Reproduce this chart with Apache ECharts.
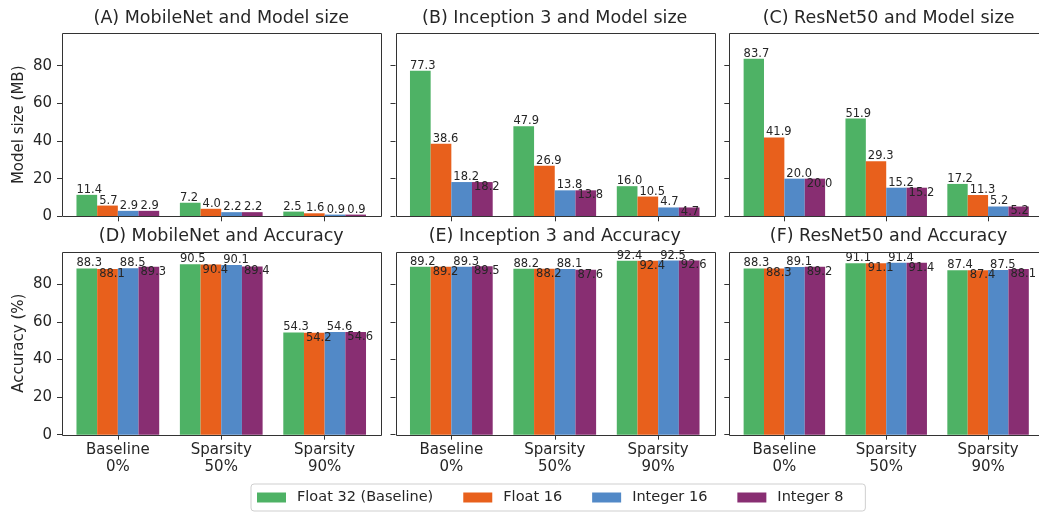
<!DOCTYPE html>
<html><head><meta charset="utf-8">
<script src="https://cdn.jsdelivr.net/npm/echarts@6/dist/echarts.min.js"></script>
<style>html,body{margin:0;padding:0;background:#fff}#c{width:1039px;height:513px}</style>
</head><body><div id="c"></div>
<script>
// ---------- data ----------
const categories = ['Baseline\n0%', 'Sparsity\n50%', 'Sparsity\n90%'];
const seriesNames = ['Float 32 (Baseline)', 'Float 16', 'Integer 16', 'Integer 8'];
const colors = ['#4EB265', '#E8601C', '#5289C7', '#882E72'];
const yTicks = [0, 20, 40, 60, 80];
const yMax = 97.23;
const panelTitles = [
  '(A) MobileNet and Model size', '(B) Inception 3 and Model size', '(C) ResNet50 and Model size',
  '(D) MobileNet and Accuracy', '(E) Inception 3 and Accuracy', '(F) ResNet50 and Accuracy'
];
const rowAxisNames = ['Model size (MB)', 'Accuracy (%)'];
// rows: Float32, Float16, Integer16, Integer8 ; columns: Baseline, Sparsity 50%, Sparsity 90%
const mobileNetSize  = [[11.4, 7.2, 2.5], [5.7, 4.0, 1.6], [2.9, 2.2, 0.9], [2.9, 2.2, 0.9]];
const inceptionSize  = [[77.3, 47.9, 16.0], [38.6, 26.9, 10.5], [18.2, 13.8, 4.7], [18.2, 13.8, 4.7]];
const resnetSize     = [[83.7, 51.9, 17.2], [41.9, 29.3, 11.3], [20.0, 15.2, 5.2], [20.0, 15.2, 5.2]];
const mobileNetAcc   = [[88.3, 90.5, 54.3], [88.1, 90.4, 54.2], [88.5, 90.1, 54.6], [89.3, 89.4, 54.6]];
const inceptionAcc   = [[89.2, 88.2, 92.4], [89.2, 88.2, 92.4], [89.3, 88.1, 92.5], [89.5, 87.6, 92.6]];
const resnetAcc      = [[88.3, 91.1, 87.4], [88.3, 91.1, 87.4], [89.1, 91.4, 87.5], [89.2, 91.4, 88.1]];
const panelData = [mobileNetSize, inceptionSize, resnetSize, mobileNetAcc, inceptionAcc, resnetAcc];

// ---------- layout ----------
const FONT = 'DejaVu Sans';
const TXT = '#262626';
const frameLefts = [62, 395.5, 729.3];
const rowTops = [33.3, 251.7];
const frameW = 318.5, frameH = 183;
const inset = frameW * 0.04 / 3.08;
const innerW = frameW - 2 * inset;

const grids = [], xAxes = [], yAxes = [], series = [], graphics = [];
for (let row = 0; row < 2; row++) {
  for (let col = 0; col < 3; col++) {
    const idx = row * 3 + col;
    const L = frameLefts[col], T = rowTops[row];
    grids.push({left: L + inset, top: T, width: innerW, height: frameH});
    xAxes.push({
      type: 'category', gridIndex: idx, data: categories,
      axisLine: {show: false},
      axisTick: {show: true, alignWithLabel: true, length: 5, lineStyle: {color: '#333', width: 1}},
      axisLabel: {show: row === 1, margin: 7, fontSize: 15, lineHeight: 17, fontFamily: FONT, color: TXT},
      splitLine: {show: false}
    });
    yAxes.push({
      type: 'value', gridIndex: idx, min: 0, max: yMax, offset: inset,
      axisLine: {show: false},
      axisTick: {show: true, length: 5, customValues: yTicks, lineStyle: {color: '#333', width: 1}},
      axisLabel: {show: col === 0, customValues: yTicks, margin: 10, fontSize: 15, fontFamily: FONT, color: TXT},
      splitLine: {show: false},
      name: col === 0 ? rowAxisNames[row] : '',
      nameLocation: 'middle', nameGap: 35,
      nameTextStyle: {fontSize: 15, fontFamily: FONT, color: TXT}
    });
    for (let s = 0; s < 4; s++) {
      const inside = row === 0 ? (col > 0 && s === 3) : (s === 1 || s === 3);
      series.push({
        type: 'bar', name: seriesNames[s], xAxisIndex: idx, yAxisIndex: idx,
        data: panelData[idx][s], barWidth: '20%', barGap: '0%',
        itemStyle: {color: colors[s]},
        emphasis: {disabled: true},
        label: {
          show: true, position: [s === 0 ? 0 : 2, inside ? -1 : 1],
          align: 'left', verticalAlign: inside ? 'top' : 'bottom',
          formatter: p => p.value.toFixed(1),
          fontSize: 11.5, fontFamily: FONT, color: TXT
        }
      });
    }
    graphics.push({
      type: 'rect', z: 50, silent: true,
      shape: {x: Math.round(L) + 0.5, y: Math.round(T) + 0.5, width: Math.round(frameW), height: frameH},
      style: {fill: 'none', stroke: '#333', lineWidth: 1}
    });
    graphics.push({
      type: 'text', z: 50, silent: true,
      x: L + frameW / 2, y: T - 15,
      style: {text: panelTitles[idx], font: '17.5px "DejaVu Sans"', fill: TXT,
              textAlign: 'center', align: 'center', textVerticalAlign: 'middle', verticalAlign: 'middle'}
    });
  }
}

const chart = echarts.init(document.getElementById('c'), null, {renderer: 'canvas'});
chart.setOption({
  animation: false,
  backgroundColor: '#fff',
  grid: grids, xAxis: xAxes, yAxis: yAxes, series: series,
  graphic: graphics,
  legend: {
    data: seriesNames, left: 251, top: 484, icon: 'rect',
    itemWidth: 29, itemHeight: 10, itemGap: 30,
    padding: [6, 22, 6, 6], borderColor: '#cfcfcf', borderWidth: 1, borderRadius: 3,
    selectedMode: false,
    textStyle: {fontSize: 14.5, fontFamily: FONT, color: TXT, padding: [0, 0, 0, 6]}
  }
});
</script></body></html>
